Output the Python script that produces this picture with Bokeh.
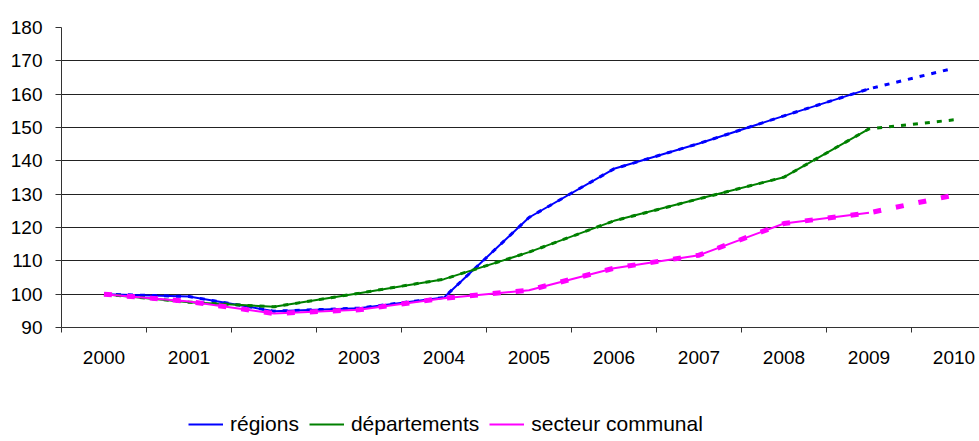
from bokeh.plotting import figure
from bokeh.models import Range1d, FixedTicker, Legend, LegendItem
from bokeh.layouts import column
from bokeh.embed import file_html
from bokeh.resources import INLINE

years = [2000, 2001, 2002, 2003, 2004, 2005, 2006, 2007, 2008, 2009, 2010]
year_labels = ["2000", "2001", "2002", "2003", "2004", "2005", "2006", "2007", "2008", "2009", "2010"]
y_ticks = [90, 100, 110, 120, 130, 140, 150, 160, 170, 180]

# solid series stop at 2009, dotted series run through 2010
regions = [100, 99.3, 94.9, 95.8, 99.0, 123.0, 137.6, 145.2, 153.5, 161.6, 167.8]
departements = [100, 97.6, 96.2, 100.3, 104.5, 112.6, 122.0, 128.6, 135.1, 149.6, 152.3]
secteur_communal = [100, 97.8, 94.2, 95.3, 98.8, 101.2, 107.8, 111.7, 121.2, 124.4, 129.7]

names = ["régions", "départements", "secteur communal"]
colors = ["#0000FF", "#008000", "#FF00FF"]

FONT = "Liberation Sans"

p = figure(width=979, height=380,
           x_range=Range1d(1999.5, 2010.3), y_range=Range1d(90, 180),
           output_backend="svg", toolbar_location=None,
           min_border_left=61, min_border_right=0, min_border_top=27, min_border_bottom=53)
p.outline_line_color = None
p.background_fill_color = "white"

# axes
p.xaxis.ticker = FixedTicker(ticks=years, minor_ticks=[y - 0.5 for y in years] + [years[-1] + 0.5])
p.xaxis.major_label_overrides = {y: l for y, l in zip(years, year_labels)}
p.xaxis.major_tick_line_color = None
p.xaxis.major_tick_out = 0
p.xaxis.major_tick_in = 0
p.xaxis.minor_tick_out = 5
p.xaxis.minor_tick_in = 0
p.xaxis.minor_tick_line_color = "#333333"
p.xaxis.major_label_standoff = 18
p.yaxis.ticker = FixedTicker(ticks=y_ticks)
p.yaxis.major_tick_out = 6
p.yaxis.major_tick_in = 0
p.yaxis.minor_tick_line_color = None
p.yaxis.major_label_standoff = 13
p.yaxis.major_tick_line_color = "#333333"
for ax in (p.xaxis, p.yaxis):
    ax.axis_line_color = "#333333"
    ax.major_label_text_font = FONT
    ax.major_label_text_font_size = "19px"
    ax.major_label_text_color = "black"

p.xgrid.grid_line_color = None
p.ygrid.ticker = FixedTicker(ticks=y_ticks)
p.ygrid.grid_line_color = "#222222"
p.ygrid.grid_line_width = 1

series = [regions, departements, secteur_communal]
for name, vals, col in zip(names, series, colors):
    p.line(years[:10], vals[:10], line_color=col, line_width=2)
    if col == "#FF00FF":
        p.line(years, vals, line_color=col, line_width=5, line_dash="8 15")
    else:
        p.line(years, vals, line_color=col, line_width=3, line_dash="5 7")

# legend strip below the chart (its frame is aligned with the chart frame)
lg = figure(width=979, height=61, x_range=Range1d(0, 1), y_range=Range1d(0, 1),
            x_axis_type=None, y_axis_type=None, output_backend="svg", toolbar_location=None,
            min_border=0, min_border_left=61, min_border_right=0, min_border_top=0, min_border_bottom=0)
lg.outline_line_color = None
lg.xgrid.visible = False
lg.ygrid.visible = False
items = []
for name, vals, col in zip(names, series, colors):
    # renderer only used as the legend swatch; its points lie outside the strip's range
    r = lg.line(x=years[:2], y=vals[:2], line_color=col, line_width=2)
    items.append(LegendItem(label=name, renderers=[r]))
legend = Legend(items=items, orientation="horizontal", location=(127, 5),
                label_text_font=FONT, label_text_font_size="21px", label_text_color="black",
                glyph_width=35, glyph_height=20, label_standoff=7, spacing=10,
                padding=0, margin=0, border_line_color=None, background_fill_alpha=0)
lg.add_layout(legend)

open("out.html", "w").write(file_html(column(p, lg, spacing=0), INLINE))
